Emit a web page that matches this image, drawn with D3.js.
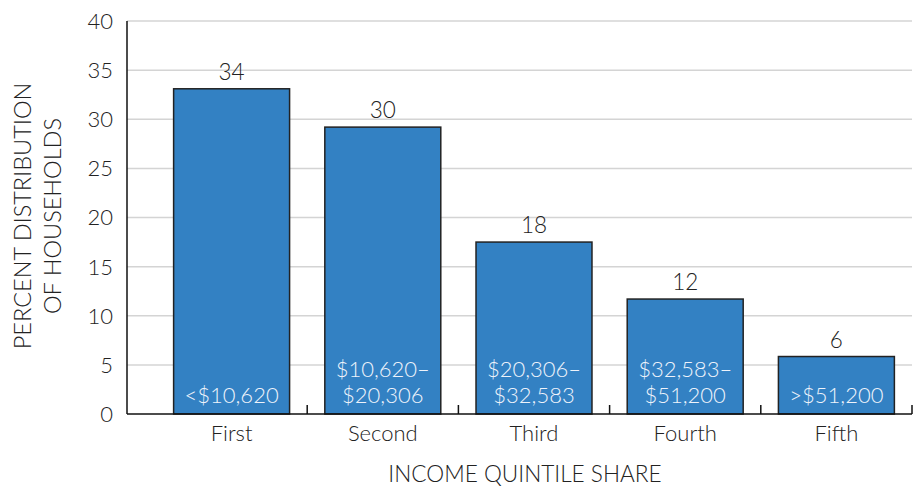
<!DOCTYPE html>
<html><head><meta charset="utf-8">
<script src="https://cdn.jsdelivr.net/npm/d3@7/dist/d3.min.js"></script>
<style>
body{margin:0;background:#fff;}
text{font-family:Lato,"Open Sans",sans-serif;font-weight:300;}
</style></head>
<body><svg id="c" width="915" height="487"></svg>
<script>
const categories = ["First","Second","Third","Fourth","Fifth"];
const values = [33.1, 29.2, 17.5, 11.7, 5.85];
const valueLabels = ["34","30","18","12","6"];
const incomeRanges = [["<$10,620"],["$10,620–","$20,306"],["$20,306–","$32,583"],["$32,583–","$51,200"],[">$51,200"]];
const yTicks = [0,5,10,15,20,25,30,35,40];
const yTitle = ["PERCENT DISTRIBUTION","OF HOUSEHOLDS"];
const xTitle = "INCOME QUINTILE SHARE";

const svg = d3.select("#c");
const axisX0 = 127, plotRight = 912, yTop = 21, yBottom = 414;
const x = d3.scaleBand().domain(categories).range([156, plotRight]).paddingInner(0.233).paddingOuter(0.1165);
const y = d3.scaleLinear().domain([0,40]).range([yBottom, yTop]);

// gridlines
svg.append("g").selectAll("line").data(yTicks.filter(d=>d>0)).join("line")
  .attr("x1", axisX0).attr("x2", plotRight)
  .attr("y1", d=>y(d)).attr("y2", d=>y(d))
  .attr("stroke", "#d4d4d4").attr("stroke-width", 1.5);

// y tick labels
svg.append("g").selectAll("text").data(yTicks).join("text")
  .attr("x", axisX0 - 14).attr("y", d=>y(d)).attr("dy", "0.36em")
  .attr("text-anchor", "end").attr("font-size", 22).attr("fill", "#222")
  .text(d=>d);

// bars
svg.append("g").selectAll("rect").data(values).join("rect")
  .attr("x", (d,i)=>x(categories[i])).attr("width", x.bandwidth())
  .attr("y", d=>y(d)).attr("height", d=>yBottom - y(d))
  .attr("fill", "#3381c3").attr("stroke", "#222").attr("stroke-width", 1.5);

// value labels
svg.append("g").selectAll("text").data(values).join("text")
  .attr("x", (d,i)=>x(categories[i]) + x.bandwidth()/2)
  .attr("y", d=>y(d) - 9)
  .attr("text-anchor", "middle").attr("font-size", 22.5).attr("fill", "#222")
  .text((d,i)=>valueLabels[i]);

// income range labels inside bars
const g = svg.append("g");
incomeRanges.forEach((lines,i)=>{
  const cx = x(categories[i]) + x.bandwidth()/2;
  lines.forEach((t,j)=>{
    g.append("text").attr("x", cx).attr("y", 403 - (lines.length-1-j)*26)
      .attr("text-anchor","middle").attr("font-size", 22).attr("fill","#eef3fb")
      .text(t);
  });
});

// axes lines
svg.append("line").attr("x1", axisX0).attr("x2", axisX0).attr("y1", yTop).attr("y2", yBottom)
  .attr("stroke","#111").attr("stroke-width",1.5);
svg.append("line").attr("x1", axisX0).attr("x2", plotRight).attr("y1", yBottom).attr("y2", yBottom)
  .attr("stroke","#111").attr("stroke-width",1.5);

// x ticks at band boundaries
const bounds = categories.slice(1).map(c=>x(c) - x.step()*x.paddingInner()/2).concat([plotRight]);
svg.append("g").selectAll("line").data(bounds).join("line")
  .attr("x1", d=>d).attr("x2", d=>d).attr("y1", yBottom).attr("y2", yBottom-9)
  .attr("stroke","#111").attr("stroke-width",1.5);

// category labels
svg.append("g").selectAll("text").data(categories).join("text")
  .attr("x", d=>x(d) + x.bandwidth()/2).attr("y", 441)
  .attr("text-anchor","middle").attr("font-size", 22).attr("fill","#222")
  .text(d=>d);

// x title
svg.append("text").attr("x", 525).attr("y", 482).attr("text-anchor","middle")
  .attr("font-size", 22.6).attr("fill","#222").text(xTitle);

// y title
const yt = svg.append("text").attr("transform","translate(0,216) rotate(-90)")
  .attr("text-anchor","middle").attr("font-size", 23.5).attr("fill","#222");
yTitle.forEach((t,i)=>{
  yt.append("tspan").attr("x",0).attr("y", 31 + i*30).text(t);
});
</script></body></html>
